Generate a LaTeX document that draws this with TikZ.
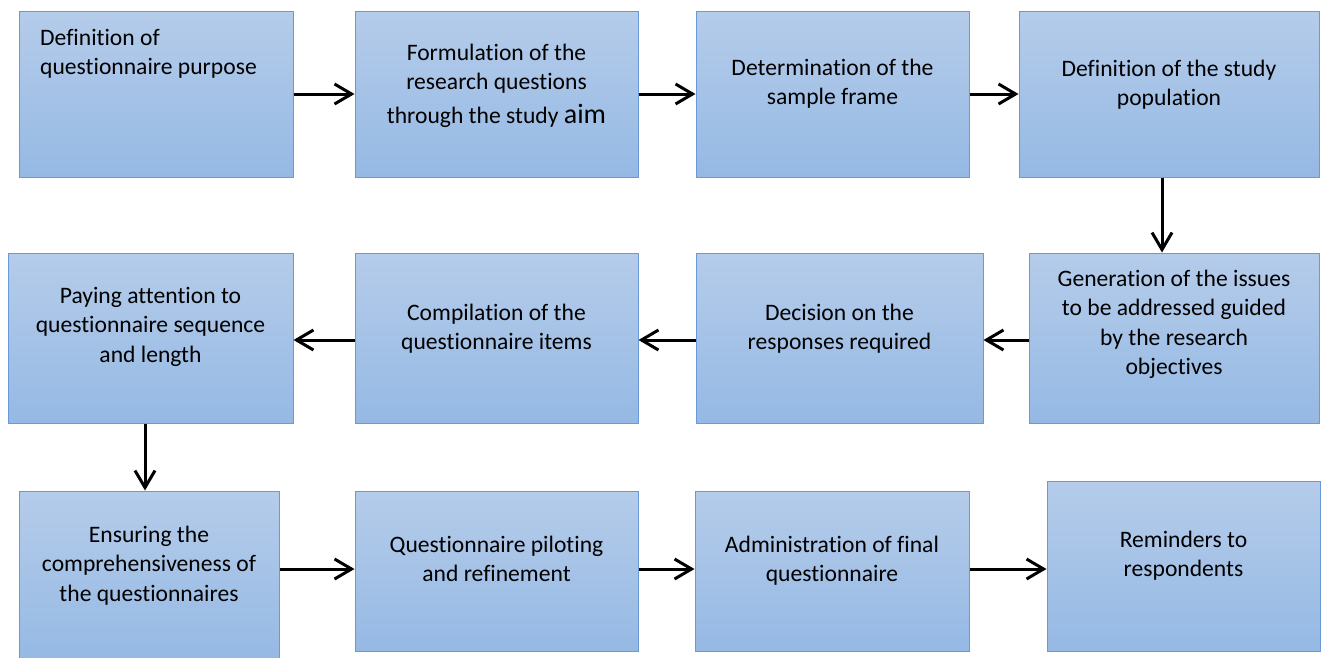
\documentclass[tikz,border=0pt]{standalone}
\usepackage{fontspec}
\setmainfont{Carlito}[RawFeature={-liga}]
\usetikzlibrary{arrows.meta}
\definecolor{boxtop}{RGB}{181,204,234}
\definecolor{boxbot}{RGB}{149,185,228}
\definecolor{boxline}{RGB}{105,153,214}
\tikzset{
  stepbox/.style={rectangle, draw=boxline, line width=1pt, top color=boxtop, bottom color=boxbot, inner sep=0pt},
  steptext/.style={inner sep=0pt, align=center, anchor=north, font=\fontsize{23.6}{29.5}\selectfont},
  flow/.style={draw=black, line width=3pt, -{Straight Barb[length=17pt,width=20pt]}}
}
\begin{document}
\begin{tikzpicture}[x=1pt, y=-1pt]
\useasboundingbox (0,0) rectangle (1324,657);
% boxes
\node[stepbox, minimum width=274pt, minimum height=166pt] (b1) at (156,94) {};
\node[stepbox, minimum width=283pt, minimum height=166pt] (b2) at (496.5,94) {};
\node[stepbox, minimum width=273pt, minimum height=166pt] (b3) at (832.5,94) {};
\node[stepbox, minimum width=300pt, minimum height=166pt] (b4) at (1169,94) {};
\node[stepbox, minimum width=285pt, minimum height=170pt] (b5) at (150.5,338) {};
\node[stepbox, minimum width=283pt, minimum height=170pt] (b6) at (496.5,338) {};
\node[stepbox, minimum width=287pt, minimum height=170pt] (b7) at (839.5,338) {};
\node[stepbox, minimum width=290pt, minimum height=170pt] (b8) at (1174,338) {};
\node[stepbox, minimum width=260pt, minimum height=170pt] (b9) at (149,576) {};
\node[stepbox, minimum width=283pt, minimum height=160pt] (b10) at (496.5,571) {};
\node[stepbox, minimum width=274pt, minimum height=160pt] (b11) at (832,571) {};
\node[stepbox, minimum width=273pt, minimum height=170pt] (b12) at (1183.5,566) {};
% texts
\node[steptext, anchor=north west, align=left] (t1) at (40,24.35) {\strut Definition of\\\strut questionnaire purpose};
\node[steptext] (t2) at (496.5,39.35) {\strut Formulation of the\\\strut research questions\\[4.5pt]\strut through the study {\fontsize{28}{34}\selectfont aim}};
\node[steptext] (t3) at (832.5,54.35) {\strut Determination of the\\\strut sample frame};
\node[steptext] (t4) at (1169,55.35) {\strut Definition of the study\\\strut population};
\node[steptext] (t5) at (150.5,282.35) {\strut Paying attention to\\\strut questionnaire sequence\\\strut and length};
\node[steptext] (t6) at (496.5,299.35) {\strut Compilation of the\\\strut questionnaire items};
\node[steptext] (t7) at (839.5,299.35) {\strut Decision on the\\\strut responses required};
\node[steptext] (t8) at (1174,265.35) {\strut Generation of the issues\\\strut to be addressed guided\\\strut by the research\\\strut objectives};
\node[steptext] (t9) at (149,521.35) {\strut Ensuring the\\\strut comprehensiveness of\\\strut the questionnaires};
\node[steptext] (t10) at (496.5,531.35) {\strut Questionnaire piloting\\\strut and refinement};
\node[steptext] (t11) at (832,531.35) {\strut Administration of final\\\strut questionnaire};
\node[steptext] (t12) at (1183.5,526.35) {\strut Reminders to\\\strut respondents};
% helper coordinates
\coordinate (v1) at (1162,0);
\coordinate (v2) at (145,0);
\coordinate (h2) at (0,340);
\coordinate (h3) at (0,569);
% connectors
\draw[flow] (b1) -- (b2);
\draw[flow] (b2) -- (b3);
\draw[flow] (b3) -- (b4);
\draw[flow] (b4.south -| v1) -- (b8.north -| v1);
\draw[flow] (b8.west |- h2) -- (b7.east |- h2);
\draw[flow] (b7.west |- h2) -- (b6.east |- h2);
\draw[flow] (b6.west |- h2) -- (b5.east |- h2);
\draw[flow] (b5.south -| v2) -- (b9.north -| v2);
\draw[flow] (b9.east |- h3) -- (b10.west |- h3);
\draw[flow] (b10.east |- h3) -- (b11.west |- h3);
\draw[flow] (b11.east |- h3) -- (b12.west |- h3);
\end{tikzpicture}
\end{document}
